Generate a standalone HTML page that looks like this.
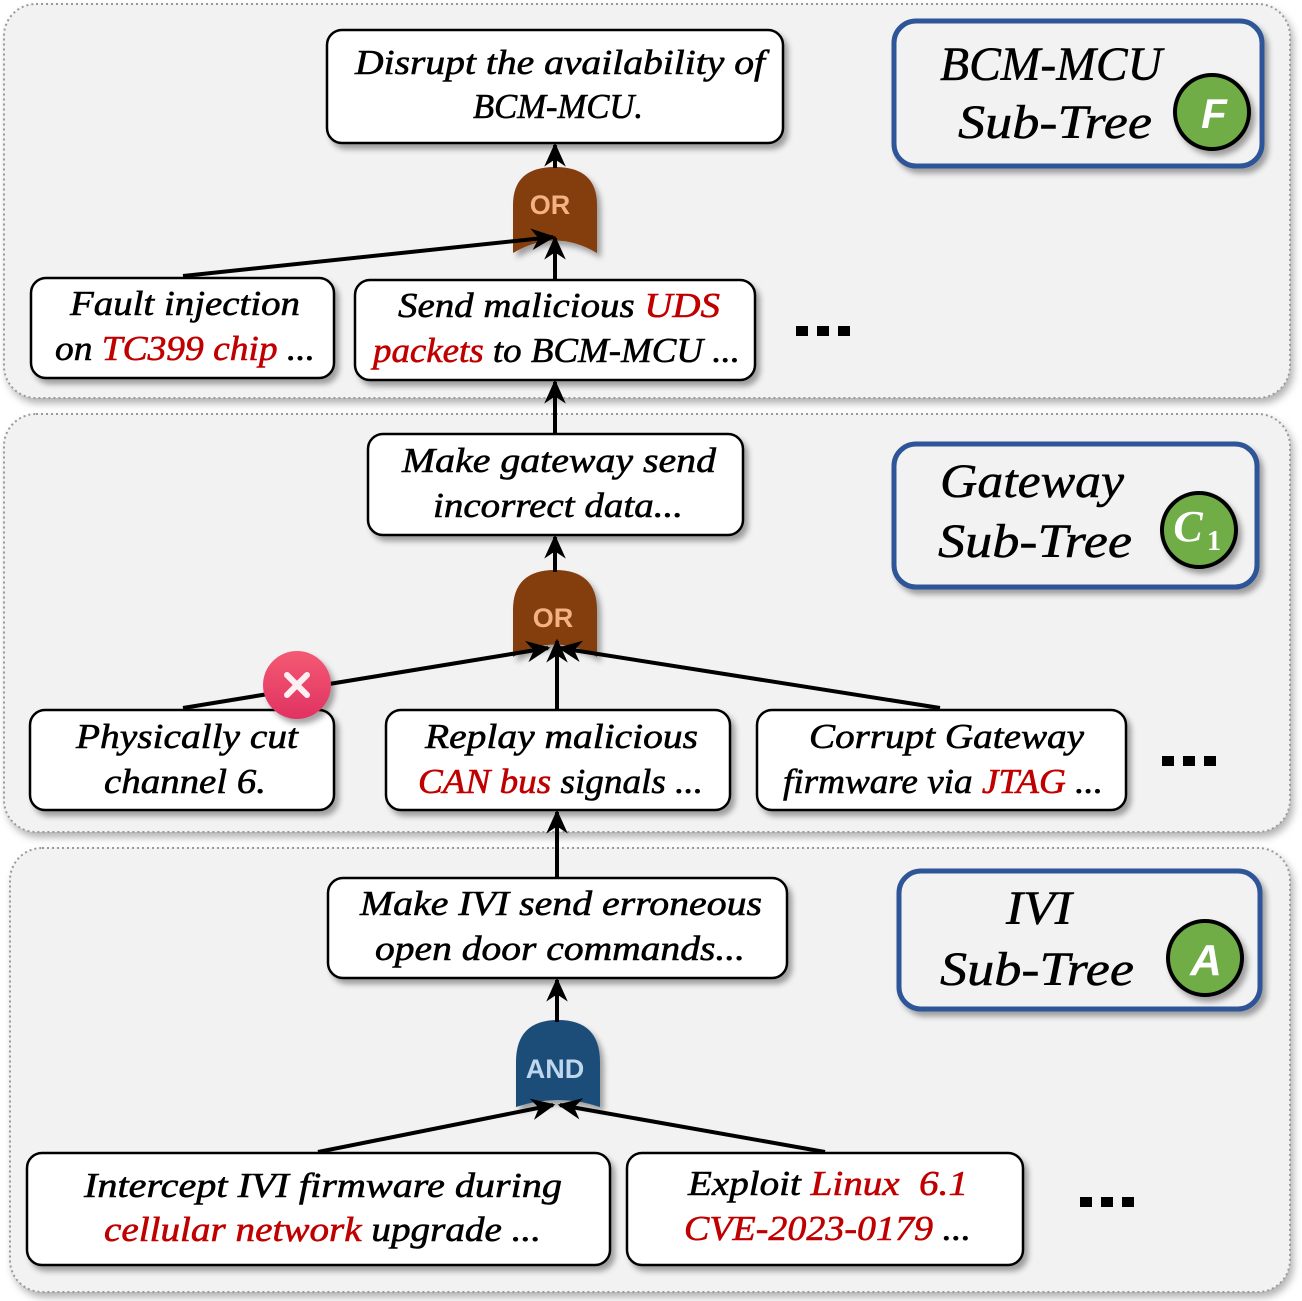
<!DOCTYPE html>
<html><head><meta charset="utf-8"><style>
html,body{margin:0;padding:0;background:#fff}
svg{display:block}
text{font-family:"Liberation Serif",serif;font-style:italic}
.n{font-size:35px;fill:#000;stroke:#000;stroke-width:0.6}
.r{fill:#c00000;stroke:#c00000}
.lb{font-size:48px;fill:#000;stroke:#000;stroke-width:0.5}
.g{font-family:"Liberation Sans",sans-serif;font-style:normal;font-weight:bold;font-size:27px}
</style></head><body>
<svg width="1302" height="1301" viewBox="0 0 1302 1301" xmlns="http://www.w3.org/2000/svg">
<defs>
<filter id="sh" x="-10%" y="-10%" width="130%" height="140%"><feDropShadow dx="4" dy="5" stdDeviation="3" flood-color="#000" flood-opacity="0.35"/></filter>
<filter id="psh" x="-5%" y="-5%" width="110%" height="115%"><feDropShadow dx="3" dy="5" stdDeviation="4" flood-color="#000" flood-opacity="0.3"/></filter>
<marker id="a" viewBox="0 0 10 10" refX="9" refY="5" markerWidth="6" markerHeight="6" orient="auto"><path d="M0,0.5 L10,5 L0,9.5 L3,5 Z" fill="#000"/></marker>
<linearGradient id="xg" x1="0" y1="0" x2="0" y2="1"><stop offset="0" stop-color="#f45a72"/><stop offset="1" stop-color="#e03262"/></linearGradient>
</defs>

<!-- panels -->
<rect x="4" y="4" width="1286" height="394" rx="32" fill="#f2f2f2" stroke="#999" stroke-width="2" stroke-dasharray="2 3" filter="url(#psh)"/>
<rect x="4" y="414" width="1286" height="418" rx="32" fill="#f2f2f2" stroke="#999" stroke-width="2" stroke-dasharray="2 3" filter="url(#psh)"/>
<rect x="10" y="848" width="1280" height="444" rx="32" fill="#f2f2f2" stroke="#999" stroke-width="2" stroke-dasharray="2 3" filter="url(#psh)"/>

<!-- gates -->
<g filter="url(#sh)">
<path d="M513,253 L513,205 Q513,167 555,167 Q597,167 597,205 L597,253 Q555,228 513,253 Z" fill="#843c0c"/>
<path d="M513,657 L513,610 Q513,570 555,570 Q597,570 597,610 L597,657 Q555,632 513,657 Z" fill="#843c0c"/>
<path d="M516,1107 L516,1062 Q516,1020 558,1020 Q600,1020 600,1062 L600,1107 Q558,1093 516,1107 Z" fill="#1f4e79"/>
</g>
<text x="550" y="214" text-anchor="middle" class="g" fill="#f4b183">OR</text>
<text x="553" y="627" text-anchor="middle" class="g" fill="#f4b183">OR</text>
<text x="555" y="1078" text-anchor="middle" class="g" fill="#bdd7ee">AND</text>

<!-- connectors -->
<g stroke="#000" stroke-width="4" fill="none" marker-end="url(#a)">
<line x1="555" y1="168" x2="555" y2="145"/>
<line x1="555" y1="280" x2="555" y2="238"/>
<line x1="183" y1="276" x2="553" y2="237"/>
<line x1="555" y1="433" x2="555" y2="382"/>
<line x1="555" y1="572" x2="555" y2="537"/>
<line x1="557" y1="710" x2="557" y2="641"/>
<line x1="183" y1="708" x2="548" y2="648"/>
<line x1="940" y1="708" x2="560" y2="648"/>
<line x1="557" y1="878" x2="557" y2="980" transform="translate(0,0)" marker-end="none" stroke="none"/>
<line x1="557" y1="878" x2="557" y2="812"/>
<line x1="557" y1="1022" x2="557" y2="980"/>
<line x1="318" y1="1152" x2="553" y2="1105"/>
<line x1="825" y1="1152" x2="560" y2="1105"/>
</g>

<!-- nodes -->
<g fill="#fff" stroke="#000" stroke-width="2.5" filter="url(#sh)">
<rect x="327" y="30" width="456" height="113" rx="15"/>
<rect x="31" y="278" width="303" height="100" rx="15"/>
<rect x="355" y="280" width="400" height="100" rx="15"/>
<rect x="368" y="434" width="375" height="101" rx="15"/>
<rect x="30" y="710" width="304" height="100" rx="15"/>
<rect x="386" y="710" width="344" height="100" rx="15"/>
<rect x="757" y="710" width="369" height="100" rx="15"/>
<rect x="328" y="878" width="459" height="100" rx="15"/>
<rect x="27" y="1153" width="583" height="112" rx="15"/>
<rect x="627" y="1153" width="396" height="112" rx="15"/>
</g>

<text class="n" x="355" y="74" textLength="410" lengthAdjust="spacingAndGlyphs">Disrupt the availability of</text>
<text class="n" x="473" y="118" textLength="170" lengthAdjust="spacingAndGlyphs">BCM-MCU.</text>

<text class="n" x="70" y="315" textLength="230" lengthAdjust="spacingAndGlyphs">Fault injection</text>
<text class="n" x="55" y="360" textLength="260" lengthAdjust="spacingAndGlyphs">on <tspan class="r">TC399 chip</tspan> ...</text>

<text class="n" x="398" y="317" textLength="322" lengthAdjust="spacingAndGlyphs">Send malicious <tspan class="r">UDS</tspan></text>
<text class="n" x="373" y="362" textLength="367" lengthAdjust="spacingAndGlyphs"><tspan class="r">packets</tspan> to BCM-MCU ...</text>

<text class="n" x="402" y="472" textLength="314" lengthAdjust="spacingAndGlyphs">Make gateway send</text>
<text class="n" x="433" y="517" textLength="250" lengthAdjust="spacingAndGlyphs">incorrect data...</text>

<text class="n" x="76" y="748" textLength="222" lengthAdjust="spacingAndGlyphs">Physically cut</text>
<text class="n" x="104" y="793" textLength="162" lengthAdjust="spacingAndGlyphs">channel 6.</text>

<text class="n" x="425" y="748" textLength="273" lengthAdjust="spacingAndGlyphs">Replay malicious</text>
<text class="n" x="418" y="793" textLength="285" lengthAdjust="spacingAndGlyphs"><tspan class="r">CAN bus</tspan> signals ...</text>

<text class="n" x="809" y="748" textLength="275" lengthAdjust="spacingAndGlyphs">Corrupt Gateway</text>
<text class="n" x="783" y="793" textLength="320" lengthAdjust="spacingAndGlyphs">firmware via <tspan class="r">JTAG</tspan> ...</text>

<text class="n" x="360" y="915" textLength="402" lengthAdjust="spacingAndGlyphs">Make IVI send erroneous</text>
<text class="n" x="375" y="960" textLength="370" lengthAdjust="spacingAndGlyphs">open door commands...</text>

<text class="n" x="84" y="1197" textLength="478" lengthAdjust="spacingAndGlyphs">Intercept IVI firmware during</text>
<text class="n" x="104" y="1241" textLength="437" lengthAdjust="spacingAndGlyphs"><tspan class="r">cellular network</tspan> upgrade ...</text>

<text class="n" x="688" y="1195" textLength="280" lengthAdjust="spacingAndGlyphs">Exploit <tspan class="r">Linux&#160; 6.1</tspan></text>
<text class="n" x="684" y="1240" textLength="287" lengthAdjust="spacingAndGlyphs"><tspan class="r">CVE-2023-0179</tspan> ...</text>

<!-- ellipses -->
<g fill="#000">
<rect x="796" y="326" width="12" height="10"/><rect x="817" y="326" width="12" height="10"/><rect x="838" y="326" width="12" height="10"/>
<rect x="1162" y="756" width="12" height="10"/><rect x="1183" y="756" width="12" height="10"/><rect x="1204" y="756" width="12" height="10"/>
<rect x="1080" y="1197" width="12" height="10"/><rect x="1101" y="1197" width="12" height="10"/><rect x="1122" y="1197" width="12" height="10"/>
</g>

<!-- red X -->
<circle cx="297" cy="685" r="34" fill="url(#xg)" filter="url(#sh)"/>
<g stroke="#fff" stroke-width="6" stroke-linecap="round" opacity="0.92">
<line x1="287" y1="675" x2="307" y2="695"/><line x1="307" y1="675" x2="287" y2="695"/>
</g>

<!-- label boxes -->
<g fill="#f2f2f2" stroke="#2f5597" stroke-width="5" filter="url(#sh)">
<rect x="894" y="21" width="368" height="145" rx="22"/>
<rect x="894" y="444" width="363" height="143" rx="22"/>
<rect x="899" y="871" width="361" height="138" rx="22"/>
</g>
<text class="lb" x="940" y="80" textLength="222" lengthAdjust="spacingAndGlyphs">BCM-MCU</text>
<text class="lb" x="958" y="138" textLength="194" lengthAdjust="spacingAndGlyphs">Sub-Tree</text>
<text class="lb" x="940" y="497" textLength="184" lengthAdjust="spacingAndGlyphs">Gateway</text>
<text class="lb" x="938" y="557" textLength="194" lengthAdjust="spacingAndGlyphs">Sub-Tree</text>
<text class="lb" x="1006" y="924" textLength="66" lengthAdjust="spacingAndGlyphs">IVI</text>
<text class="lb" x="940" y="985" textLength="194" lengthAdjust="spacingAndGlyphs">Sub-Tree</text>

<g fill="#70ad47" stroke="#000" stroke-width="4" filter="url(#sh)">
<circle cx="1212" cy="112" r="37"/>
<circle cx="1199" cy="530" r="37"/>
<circle cx="1205" cy="958" r="37"/>
</g>
<text x="1214" y="128" text-anchor="middle" style="font-family:'Liberation Sans',sans-serif;font-weight:bold;font-size:42px" fill="#fff">F</text>
<text x="1188" y="541" text-anchor="middle" style="font-weight:bold;font-size:44px" fill="#fff">C</text>
<text x="1214" y="550" text-anchor="middle" style="font-style:normal;font-weight:bold;font-size:28px" fill="#fff">1</text>
<text x="1206" y="975" text-anchor="middle" style="font-family:'Liberation Sans',sans-serif;font-weight:bold;font-size:44px" fill="#fff">A</text>
</svg>
</body></html>
